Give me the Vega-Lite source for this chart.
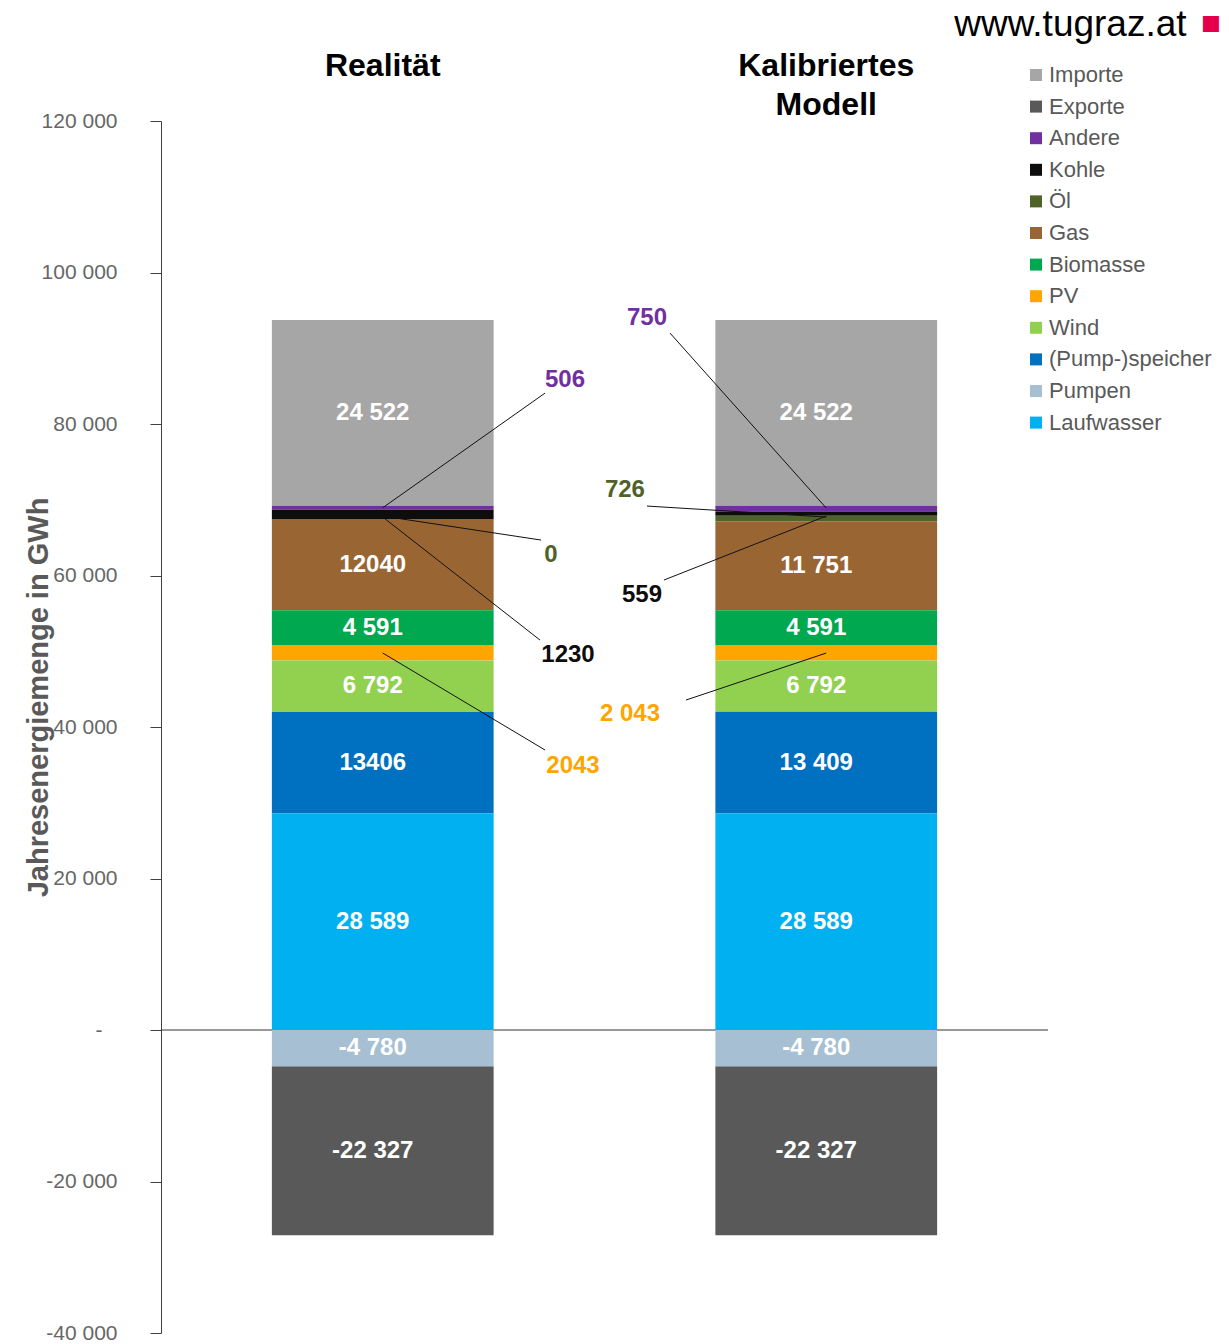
{
  "$schema": "https://vega.github.io/schema/vega-lite/v6.json",
  "width": 887,
  "height": 1212,
  "autosize": {"type": "none"},
  "padding": {"left": 161, "top": 121, "right": 181, "bottom": 11},
  "background": "white",
  "config": {"view": {"stroke": null}, "font": "Liberation Sans"},
  "title": {
    "text": "www.tugraz.at\u2009\u2800",
    "subtitle": "■",
    "anchor": "end",
    "frame": "group",
    "dx": 173,
    "offset": 5,
    "fontSize": 37,
    "fontWeight": "normal",
    "color": "black",
    "font": "Liberation Sans",
    "subtitleFont": "Liberation Sans",
    "subtitleColor": "#E6004C",
    "subtitleFontSize": 33,
    "subtitlePadding": -36
  },
  "datasets": {
    "bars": [
      {"Szenario": "Realität", "Quelle": "Importe", "Wert": 24522, "Text": "24 522"},
      {"Szenario": "Realität", "Quelle": "Exporte", "Wert": -22327, "Text": "-22 327"},
      {"Szenario": "Realität", "Quelle": "Andere", "Wert": 506, "Text": ""},
      {"Szenario": "Realität", "Quelle": "Kohle", "Wert": 1230, "Text": ""},
      {"Szenario": "Realität", "Quelle": "Öl", "Wert": 0, "Text": ""},
      {"Szenario": "Realität", "Quelle": "Gas", "Wert": 12040, "Text": "12040"},
      {"Szenario": "Realität", "Quelle": "Biomasse", "Wert": 4591, "Text": "4 591"},
      {"Szenario": "Realität", "Quelle": "PV", "Wert": 2043, "Text": ""},
      {"Szenario": "Realität", "Quelle": "Wind", "Wert": 6792, "Text": "6 792"},
      {"Szenario": "Realität", "Quelle": "(Pump-)speicher", "Wert": 13406, "Text": "13406"},
      {"Szenario": "Realität", "Quelle": "Pumpen", "Wert": -4780, "Text": "-4 780"},
      {"Szenario": "Realität", "Quelle": "Laufwasser", "Wert": 28589, "Text": "28 589"},
      {"Szenario": "Kalibriertes Modell", "Quelle": "Importe", "Wert": 24522, "Text": "24 522"},
      {"Szenario": "Kalibriertes Modell", "Quelle": "Exporte", "Wert": -22327, "Text": "-22 327"},
      {"Szenario": "Kalibriertes Modell", "Quelle": "Andere", "Wert": 750, "Text": ""},
      {"Szenario": "Kalibriertes Modell", "Quelle": "Kohle", "Wert": 559, "Text": ""},
      {"Szenario": "Kalibriertes Modell", "Quelle": "Öl", "Wert": 726, "Text": ""},
      {"Szenario": "Kalibriertes Modell", "Quelle": "Gas", "Wert": 11751, "Text": "11 751"},
      {"Szenario": "Kalibriertes Modell", "Quelle": "Biomasse", "Wert": 4591, "Text": "4 591"},
      {"Szenario": "Kalibriertes Modell", "Quelle": "PV", "Wert": 2043, "Text": ""},
      {"Szenario": "Kalibriertes Modell", "Quelle": "Wind", "Wert": 6792, "Text": "6 792"},
      {"Szenario": "Kalibriertes Modell", "Quelle": "(Pump-)speicher", "Wert": 13409, "Text": "13 409"},
      {"Szenario": "Kalibriertes Modell", "Quelle": "Pumpen", "Wert": -4780, "Text": "-4 780"},
      {"Szenario": "Kalibriertes Modell", "Quelle": "Laufwasser", "Wert": 28589, "Text": "28 589"}
    ],
    "notes": [
      {"Szenario": "Realität", "Quelle": "Andere", "Text": "506", "ax": 1, "ay": 68944, "bx": 1.366, "by": 84084, "lx": 1.411, "ly": 85800},
      {"Szenario": "Realität", "Quelle": "Öl", "Text": "0", "ax": 1, "ay": 67848, "bx": 1.357, "by": 64680, "lx": 1.379, "ly": 62700},
      {"Szenario": "Realität", "Quelle": "Kohle", "Text": "1230", "ax": 1, "ay": 67716, "bx": 1.3546, "by": 51480, "lx": 1.4177, "ly": 49500},
      {"Szenario": "Realität", "Quelle": "PV", "Text": "2043", "ax": 1, "ay": 49764, "bx": 1.366, "by": 36960, "lx": 1.429, "ly": 34848},
      {"Szenario": "Kalibriertes Modell", "Quelle": "Andere", "Text": "750", "ax": 2, "ay": 68904, "bx": 1.6477, "by": 92004, "lx": 1.5958, "ly": 93984},
      {"Szenario": "Kalibriertes Modell", "Quelle": "Öl", "Text": "726", "ax": 2, "ay": 67716, "bx": 1.5958, "by": 69168, "lx": 1.546, "ly": 71280},
      {"Szenario": "Kalibriertes Modell", "Quelle": "Kohle", "Text": "559", "ax": 2, "ay": 67848, "bx": 1.634, "by": 59400, "lx": 1.5846, "ly": 57420},
      {"Szenario": "Kalibriertes Modell", "Quelle": "PV", "Text": "2 043", "ax": 2, "ay": 49764, "bx": 1.6838, "by": 43560, "lx": 1.5575, "ly": 41712}
    ]
  },
  "layer": [
    {
      "layer": [
        {
          "data": {"values": [{}]},
          "mark": {"type": "rule", "color": "#333333", "strokeWidth": 1},
          "encoding": {
            "y": {"datum": 0, "type": "quantitative", "scale": {"domain": [-40000, 120000], "nice": false, "zero": false},
              "title": "Jahresenergiemenge in GWh",
              "axis": {
                "values": [-40000, -20000, 0, 20000, 40000, 60000, 80000, 100000, 120000],
                "labelExpr": "datum.value == 0 ? '-\u2800' : replace(replace(format(datum.value, ','), regexp(',', 'g'), '\u00a0'), '\u2212', '-')",
                "grid": false,
                "domainColor": "#404040",
                "tickColor": "#404040",
                "tickSize": 11,
                "labelColor": "#666666",
                "labelFontSize": 21,
                "labelPadding": 33,
                "titleFontSize": 29,
                "titleFontWeight": "bold",
                "titleColor": "#595959",
                "titleX": -114,
                "titleY": 576,
                "titleAngle": -90,
                "titleBaseline": "alphabetic",
                "titleAlign": "center"
              }
            }
          }
        },
        {
          "data": {"name": "bars"},
          "transform": [
            {"calculate": "indexof(['Laufwasser','Pumpen','(Pump-)speicher','Wind','PV','Biomasse','Gas','Öl','Kohle','Andere','Exporte','Importe'], datum.Quelle)", "as": "Rang"}
          ],
          "mark": {"type": "bar"},
          "encoding": {
            "x": {
              "field": "Szenario", "type": "nominal", "sort": ["Realität", "Kalibriertes Modell"],
              "scale": {"paddingInner": 0.5, "paddingOuter": 0.25},
              "axis": {
                "orient": "top", "title": null, "domain": false, "ticks": false, "labelAngle": 0,
                "labelFontSize": 32, "labelFontWeight": "bold", "labelColor": "black",
                "labelBaseline": "top", "labelPadding": 71, "labelLineHeight": 39, "labelLimit": 400,
                "labelExpr": "datum.value == 'Kalibriertes Modell' ? ['Kalibriertes', 'Modell'] : datum.value"
              }
            },
            "y": {"field": "Wert", "type": "quantitative", "stack": "zero", "scale": {"domain": [-40000, 120000], "nice": false, "zero": false}, "title": "Jahresenergiemenge in GWh"},
            "color": {
              "field": "Quelle", "type": "nominal",
              "scale": {
                "domain": ["Importe", "Exporte", "Andere", "Kohle", "Öl", "Gas", "Biomasse", "PV", "Wind", "(Pump-)speicher", "Pumpen", "Laufwasser"],
                "range": ["#A6A6A6", "#595959", "#7030A0", "#0D0D0D", "#4F6228", "#996633", "#00A84F", "#FFA500", "#92D050", "#0070C0", "#A6BFD2", "#00B0F0"]
              },
              "legend": {
                "orient": "none", "legendX": 864, "legendY": -57, "title": null,
                "symbolType": "square", "symbolSize": 144, "symbolStrokeWidth": 0,
                "labelFontSize": 22, "labelColor": "#595959", "labelOffset": 2,
                "rowPadding": 9.6, "padding": 0, "labelLimit": 300
              }
            },
            "order": {"field": "Rang", "type": "quantitative"}
          }
        },
        {
          "data": {"name": "bars"},
          "transform": [
            {"calculate": "indexof(['Laufwasser','Pumpen','(Pump-)speicher','Wind','PV','Biomasse','Gas','Öl','Kohle','Andere','Exporte','Importe'], datum.Quelle)", "as": "Rang"},
            {"stack": "Wert", "groupby": ["Szenario"], "sort": [{"field": "Rang", "order": "ascending"}], "as": ["y0", "y1"]},
            {"calculate": "(datum.y0 + datum.y1) / 2", "as": "ymid"},
            {"filter": "datum.Text != ''"}
          ],
          "mark": {"type": "text", "color": "white", "fontSize": 24, "fontWeight": "bold", "baseline": "middle", "align": "center", "dx": -10},
          "encoding": {
            "x": {"field": "Szenario", "type": "nominal", "sort": ["Realität", "Kalibriertes Modell"]},
            "y": {"field": "ymid", "type": "quantitative", "scale": {"domain": [-40000, 120000], "nice": false, "zero": false}, "title": "Jahresenergiemenge in GWh"},
            "text": {"field": "Text"}
          }
        }
      ]
    },
    {
      "data": {"name": "notes"},
      "layer": [
        {
          "mark": {"type": "rule", "color": "#111111", "strokeWidth": 1},
          "encoding": {
            "x": {"field": "ax", "type": "quantitative", "scale": {"domain": [0.5, 2.5], "nice": false, "zero": false}, "axis": null},
            "x2": {"field": "bx"},
            "y": {"field": "ay", "type": "quantitative", "scale": {"domain": [-40000, 120000], "nice": false, "zero": false}, "title": "Jahresenergiemenge in GWh"},
            "y2": {"field": "by"}
          }
        },
        {
          "mark": {"type": "text", "fontSize": 24, "fontWeight": "bold", "baseline": "middle", "align": "center"},
          "encoding": {
            "x": {"field": "lx", "type": "quantitative", "scale": {"domain": [0.5, 2.5], "nice": false, "zero": false}, "axis": null},
            "y": {"field": "ly", "type": "quantitative", "scale": {"domain": [-40000, 120000], "nice": false, "zero": false}, "title": "Jahresenergiemenge in GWh"},
            "text": {"field": "Text"},
            "color": {"field": "Quelle", "type": "nominal"}
          }
        }
      ]
    }
  ],
  "resolve": {"scale": {"x": "independent"}}
}
